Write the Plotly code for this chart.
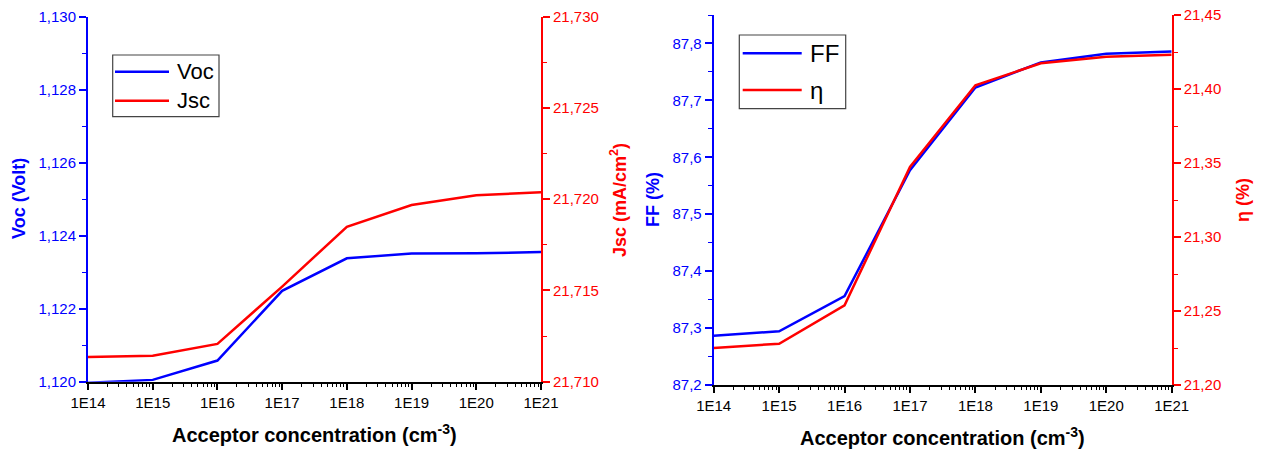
import plotly.graph_objects as go

# Acceptor concentration (cm^-3)
concentration = [1e14, 1e15, 1e16, 1e17, 1e18, 1e19, 1e20, 1e21]
x_tick_text = ["1E14", "1E15", "1E16", "1E17", "1E18", "1E19", "1E20", "1E21"]

# Open-circuit voltage (V) and short-circuit current density (mA/cm2)
voc = [1.11997, 1.12005, 1.12058, 1.12249, 1.12338, 1.12351, 1.12352, 1.12355]
jsc = [21.71135, 21.71142, 21.71207, 21.71521, 21.71849, 21.71968, 21.72021, 21.72038]

# Fill factor (%) and efficiency (%)
ff = [87.2866, 87.2943, 87.356, 87.5775, 87.7227, 87.7667, 87.7818, 87.786]
eta = [21.225, 21.2279, 21.2538, 21.3473, 21.4025, 21.4174, 21.4218, 21.4232]

W, H = 1261, 453
BLUE = "#0000FF"
RED = "#FF0000"
FONT = "Liberation Sans, Arial, sans-serif"


def px(x):
    return x / W


def py(y):
    return 1 - y / H


minor_x = [float(k) * 10.0 ** e for e in range(14, 21) for k in range(2, 10)]

fig = go.Figure()

fig.add_trace(go.Scatter(x=concentration, y=voc, mode="lines", name="Voc",
                         line=dict(color=BLUE, width=2.5), xaxis="x", yaxis="y"))
fig.add_trace(go.Scatter(x=concentration, y=jsc, mode="lines", name="Jsc",
                         line=dict(color=RED, width=2.5), xaxis="x", yaxis="y2"))
fig.add_trace(go.Scatter(x=concentration, y=ff, mode="lines", name="FF",
                         line=dict(color=BLUE, width=2.5), xaxis="x2", yaxis="y3"))
fig.add_trace(go.Scatter(x=concentration, y=eta, mode="lines", name="η",
                         line=dict(color=RED, width=2.5), xaxis="x2", yaxis="y4"))


def xaxis(domain, anchor):
    return dict(
        type="log", domain=domain, anchor=anchor, range=[14, 21],
        automargin=False,
        tickmode="array", tickvals=concentration, ticktext=x_tick_text,
        ticks="outside", ticklen=6, tickwidth=1.5, tickcolor="black",
        showline=True, linecolor="black", linewidth=2, mirror=False,
        showgrid=False, zeroline=False,
        tickfont=dict(family=FONT, size=15, color="black"),
        minor=dict(tickmode="array", tickvals=minor_x, ticks="outside",
                   ticklen=3, tickwidth=1, tickcolor="black", showgrid=False),
    )


def yaxis(domain, anchor, rng, dtick, fmt, color, side="left", overlaying=None):
    d = dict(
        domain=domain, anchor=anchor, range=rng, side=side,
        automargin=False,
        tickmode="linear", tick0=rng[0], dtick=dtick, tickformat=fmt,
        ticks="outside", ticklen=7, tickwidth=1.5, tickcolor=color,
        showline=True, linecolor=color, linewidth=2,
        showgrid=False, zeroline=False,
        tickfont=dict(family=FONT, size=15, color=color),
        minor=dict(dtick=dtick / 2, ticks="outside", ticklen=4,
                   tickwidth=1, tickcolor=color, showgrid=False),
    )
    if overlaying:
        d["overlaying"] = overlaying
    return d


left_x = [px(88), px(541)]
left_y = [py(381.7), py(16.7)]
right_x = [px(713.7), px(1171.7)]
right_y = [py(385), py(15)]

fig.update_layout(
    width=W, height=H, autosize=False,
    margin=dict(l=0, r=0, t=0, b=0, pad=0, autoexpand=False),
    paper_bgcolor="white", plot_bgcolor="white",
    separators=",.",
    showlegend=False,
    font=dict(family=FONT),
    xaxis=xaxis(left_x, "y"),
    yaxis=yaxis(left_y, "x", [1.120, 1.130], 0.002, ".3f", BLUE),
    yaxis2=yaxis(left_y, "x", [21.710, 21.730], 0.005, ".3f", RED,
                 side="right", overlaying="y"),
    xaxis2=xaxis(right_x, "y3"),
    yaxis3=yaxis(right_y, "x2", [87.2, 87.85], 0.1, ".1f", BLUE),
    yaxis4=yaxis(right_y, "x2", [21.20, 21.45], 0.05, ".2f", RED,
                 side="right", overlaying="y3"),
)

annotations = []
shapes = []


def title(text, x, y, color, size, angle=0):
    annotations.append(dict(
        text=f"<b>{text}</b>", x=px(x), y=py(y), xref="paper", yref="paper",
        showarrow=False, textangle=angle, xanchor="center", yanchor="middle",
        font=dict(family=FONT, size=size, color=color),
    ))


title("Voc (Volt)", 19, 199, BLUE, 18, -90)
title("Jsc (mA/cm<sup>2</sup>)", 618, 200, RED, 18, -90)
title("FF (%)", 653, 200, BLUE, 18, -90)
title("η (%)", 1243, 200, RED, 18, -90)
title("Acceptor concentration (cm<sup>-3</sup>)", 314, 433, "black", 20)
title("Acceptor concentration (cm<sup>-3</sup>)", 942.5, 436, "black", 20)


def legend_box(x0, y0, x1, y1, entries, line_x0, line_x1, text_x, size):
    shapes.append(dict(type="rect", xref="paper", yref="paper",
                       x0=px(x0), x1=px(x1), y0=py(y1), y1=py(y0),
                       line=dict(color="#444444", width=1.2), fillcolor="white",
                       layer="above"))
    for name, color, ly in entries:
        shapes.append(dict(type="line", xref="paper", yref="paper",
                           x0=px(line_x0), x1=px(line_x1), y0=py(ly), y1=py(ly),
                           line=dict(color=color, width=2.5), layer="above"))
        annotations.append(dict(
            text=name, x=px(text_x), y=py(ly), xref="paper", yref="paper",
            showarrow=False, xanchor="left", yanchor="middle",
            font=dict(family=FONT, size=size, color="black"),
        ))


legend_box(112.7, 55, 219, 116.7,
           [("Voc", BLUE, 71.7), ("Jsc", RED, 100.7)],
           115, 169, 175, 22)
legend_box(739.3, 35, 845.7, 108.7,
           [("FF", BLUE, 53.3), ("η", RED, 90)],
           742.7, 801.7, 808, 24)

fig.update_layout(annotations=annotations, shapes=shapes)

fig.write_html("out.html")
